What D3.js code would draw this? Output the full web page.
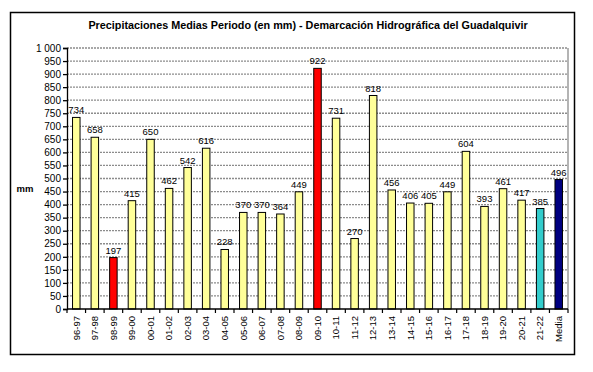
<!DOCTYPE html>
<html>
<head>
  <meta charset="utf-8">
  <script src="https://cdn.jsdelivr.net/npm/d3@7/dist/d3.min.js"></script>
  <style>
    body { margin: 0; background: #fff; }
    text { font-family: "Liberation Sans", Arial, sans-serif; }
  </style>
</head>
<body>
  <script>
    var width = 593, height = 372;

    // campaigns and mean precipitation (mm)
    var years = ["96-97","97-98","98-99","99-00","00-01","01-02","02-03","03-04","04-05","05-06",
                 "06-07","07-08","08-09","09-10","10-11","11-12","12-13","13-14","14-15","15-16",
                 "16-17","17-18","18-19","19-20","20-21","21-22","Media"];
    var values = [734,658,197,415,650,462,542,616,228,370,
                  370,364,449,922,731,270,818,456,406,405,
                  449,604,393,461,417,385,496];
    var yTicks = [0,50,100,150,200,250,300,350,400,450,500,550,600,650,700,750,800,850,900,950,1000];

    function barColor(d, i) {
      if (years[i] == "Media") return "#000080";
      if (years[i] == "21-22") return "#33CCCC";
      if (d == d3.min(values) || d == d3.max(values)) return "#FF0000";
      return "#FFFF99";
    }

    var svg = d3.select("body")
      .append("svg")
      .attr("width", width)
      .attr("height", height);

    // outer frame
    svg.append("rect")
      .attr("x", 10.5).attr("y", 12.5)
      .attr("width", 564).attr("height", 342)
      .attr("fill", "none")
      .attr("stroke", "#000")
      .attr("stroke-width", 1.5);

    var pLeft = 67, pRight = 568, pTop = 48, pBottom = 309;

    var x = d3.scaleBand().domain(years).range([pLeft, pRight]);
    var y = d3.scaleLinear().domain([0, 1000]).range([pBottom, pTop]);

    // gridlines
    svg.append("g")
      .selectAll("line")
      .data(yTicks.filter(d => d > 0))
      .enter().append("line")
      .attr("x1", pLeft).attr("x2", pRight)
      .attr("y1", d => y(d)).attr("y2", d => y(d))
      .attr("stroke", "#8c8c8c")
      .attr("stroke-width", 1.3)
      .attr("stroke-dasharray", "2,1");

    svg.append("line")
      .attr("x1", pRight).attr("x2", pRight)
      .attr("y1", pTop).attr("y2", pBottom)
      .attr("stroke", "#8c8c8c")
      .attr("stroke-width", 1.3);

    // bars
    var bw = 7.5;
    svg.append("g")
      .selectAll("rect")
      .data(values)
      .enter().append("rect")
      .attr("x", (d, i) => x(years[i]) + x.bandwidth() / 2 - bw / 2)
      .attr("y", d => y(d))
      .attr("width", bw)
      .attr("height", d => pBottom - y(d))
      .attr("fill", barColor)
      .attr("stroke", "#000")
      .attr("stroke-width", 1);

    // value labels
    svg.append("g")
      .selectAll("text")
      .data(values)
      .enter().append("text")
      .attr("x", (d, i) => x(years[i]) + x.bandwidth() / 2)
      .attr("y", d => y(d) - 4)
      .attr("text-anchor", "middle")
      .style("font-size", "9.5px")
      .style("fill", "#000")
      .text(d => d);

    // y axis
    var yAxis = d3.axisLeft(y)
      .tickValues(yTicks)
      .tickSize(4)
      .tickFormat(d => d == 1000 ? "1 000" : d);

    svg.append("g")
      .attr("transform", "translate(" + pLeft + ",0)")
      .call(yAxis)
      .call(g => g.selectAll("text").style("font-size", "10px").attr("x", -6))
      .call(g => g.selectAll("line, path").attr("stroke", "#000").attr("stroke-width", 1.3));

    // x axis: ticks at category boundaries
    var xg = svg.append("g")
      .attr("transform", "translate(0," + pBottom + ")");
    xg.append("line")
      .attr("x1", pLeft).attr("x2", pRight)
      .attr("stroke", "#000").attr("stroke-width", 1.5);
    xg.selectAll("line.tick")
      .data(years.concat(["end"]))
      .enter().append("line")
      .attr("class", "tick")
      .attr("x1", (d, i) => pLeft + i * x.bandwidth())
      .attr("x2", (d, i) => pLeft + i * x.bandwidth())
      .attr("y1", 0).attr("y2", 4)
      .attr("stroke", "#000").attr("stroke-width", 1.2);
    xg.selectAll("text")
      .data(years)
      .enter().append("text")
      .attr("transform", d => "translate(" + (x(d) + x.bandwidth() / 2) + ",7) rotate(-90)")
      .attr("text-anchor", "end")
      .attr("dy", "0.35em")
      .style("font-size", "9.5px")
      .text(d => d);

    // title and axis label
    svg.append("text")
      .attr("x", 308).attr("y", 29)
      .attr("text-anchor", "middle")
      .style("font-size", "10.8px")
      .style("font-weight", "bold")
      .text("Precipitaciones Medias Periodo (en mm) - Demarcación Hidrográfica del Guadalquivir");

    svg.append("text")
      .attr("x", 25).attr("y", 192)
      .attr("text-anchor", "middle")
      .style("font-size", "9.5px")
      .style("font-weight", "bold")
      .text("mm");
  </script>
</body>
</html>
